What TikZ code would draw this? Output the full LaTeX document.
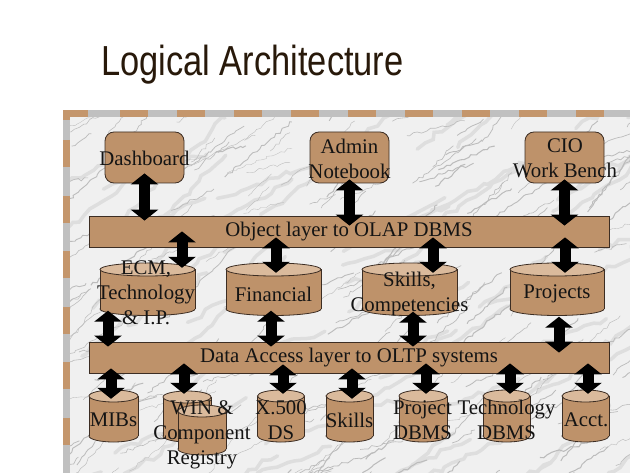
\documentclass[tikz,border=0pt]{standalone}
\usepackage{graphicx}
\usepackage{fontspec}
\setmainfont{Liberation Serif}
\newfontfamily\titlefont{Liberation Sans}
\usetikzlibrary{arrows.meta,calc,decorations.pathmorphing}
\definecolor{tanfill}{RGB}{190,146,106}
\definecolor{tanlight}{RGB}{218,186,156}
\definecolor{edgecol}{RGB}{60,45,35}
\definecolor{marble}{RGB}{240,240,240}
\definecolor{veincol}{RGB}{188,188,188}
\definecolor{cloudcol}{RGB}{222,222,222}
\definecolor{bordertan}{RGB}{196,150,108}
\definecolor{bordergray}{RGB}{192,192,192}
\definecolor{titlecol}{RGB}{40,25,10}
\tikzset{
  box/.style={draw=edgecol, fill=tanfill, rounded corners=9pt, line width=0.8pt, inner sep=0pt},
  bar/.style={draw=edgecol, fill=tanfill, line width=0.8pt, inner sep=0pt},
  lbl/.style={align=center, inner sep=0pt, text=black!92, font=\fontsize{20.8}{25}\selectfont},
  cylline/.style={draw=edgecol, line width=0.8pt},
  dbl/.style={line width=11pt, draw=black, >={Triangle[width=27pt,length=11pt]}, <->},
  vein/.style={draw=veincol, decorate, decoration={random steps, segment length=4pt, amplitude=1.6pt}},
  cloud/.style={draw=cloudcol, line width=3.5pt, line cap=round, decorate, decoration={random steps, segment length=8pt, amplitude=3pt}},
}
\newcommand\mycyl[6]{% name, cx, ytop, ybot, rx, ry
  \filldraw[cylline,fill=tanfill] (#2,#4) ellipse[x radius=#5,y radius=#6];
  \fill[tanfill] (#2-#5,#3) rectangle (#2+#5,#4);
  \draw[cylline] (#2-#5,#3) -- (#2-#5,#4) (#2+#5,#3) -- (#2+#5,#4);
  \filldraw[cylline,fill=tanlight] (#2,#3) ellipse[x radius=#5,y radius=#6];
  \node[inner sep=0pt,minimum width={2*#5},minimum height={#4-#3+2*#6}] (#1) at (#2,{(#3+#4)/2}) {};
}
\begin{document}
\begin{tikzpicture}[x=1pt,y=-1pt]
\useasboundingbox (0,0) rectangle (630,473);
\fill[white] (0,0) rectangle (630,473);

% title
\node[anchor=base west, text=titlecol, inner sep=0pt, font=\titlefont\fontsize{42}{48}\selectfont] (title) at (101,76) {\scalebox{0.82}[1]{Logical Architecture}};

% frame with marble
\fill[marble] (63,110) rectangle (630,473);
\begin{scope}
  \clip (70,117) rectangle (630,473);
  \pgfmathsetseed{11}
  \foreach \i in {1,...,70}{
    \pgfmathsetmacro\xa{20+640*rnd}
    \pgfmathsetmacro\ya{117+420*rnd}
    \pgfmathsetmacro\ang{15+30*rnd}
    \pgfmathsetmacro\len{60+90*rnd}
    \draw[cloud] (\xa,\ya) -- ++({\len*cos(\ang)},{-\len*sin(\ang)});
  }
  \foreach \i in {1,...,230}{
    \pgfmathsetmacro\xa{20+640*rnd}
    \pgfmathsetmacro\ya{117+420*rnd}
    \pgfmathsetmacro\ang{10+45*rnd}
    \pgfmathsetmacro\len{20+70*rnd}
    \pgfmathsetmacro\lw{0.3+0.8*rnd}
    \draw[vein, line width=\lw pt] (\xa,\ya) -- ++({\len*cos(\ang)},{-\len*sin(\ang)});
  }
\end{scope}
\fill[bordergray] (63,110) rectangle (630,117);
\fill[bordergray] (63,110) rectangle (70,473);
\draw[bordertan, line width=7pt, dash pattern=on 25pt off 32pt on 28pt off 29pt on 28pt off 29pt on 28pt off 29pt on 28pt off 29pt on 28pt off 29pt on 28pt off 29pt on 28pt off 29pt on 28pt off 29pt on 28pt off 29pt on 28pt off 29pt] (63,113.5) -- (630,113.5);
\fill[bordertan] (63,110) rectangle (70,120);
\draw[bordertan, line width=7pt, dash pattern=on 27pt off 28.6pt, dash phase=32.6pt] (66.5,117) -- (66.5,473);

% top boxes
\node[box, minimum width=79pt, minimum height=51pt] (dash) at (144.5,157.5) {};
\node[box, minimum width=79pt, minimum height=51pt] (admin) at (349.5,157.5) {};
\node[box, minimum width=79pt, minimum height=51pt] (cio) at (564.5,157.5) {};
\node[lbl] (dashT) at (144.5,158) {Dashboard};
\node[lbl] (adminT) at (349.5,158.5) {Admin\\Notebook};
\node[lbl] (cioT) at (565,158.5) {CIO\\Work Bench};

% bars
\node[bar, minimum width=520pt, minimum height=31pt] (obj) at (349,231.5) {};
\node[lbl] (objT) at (349,232) {Object layer to OLAP DBMS};
\node[bar, minimum width=520pt, minimum height=31pt] (data) at (349,357.5) {};
\node[lbl] (dataT) at (349,358) {Data Access layer to OLTP systems};

% middle cylinders
\mycyl{ecm}{147.5}{269.5}{309}{47.5}{6.5}
\mycyl{fin}{273.5}{269.5}{309}{47.5}{6.5}
\mycyl{skl}{409.5}{269.5}{309}{47.5}{6.5}
\mycyl{proj}{557}{269.5}{309}{47}{6.5}
\node[lbl] (ecmT) at (146,293) {ECM,\\Technology\\\& I.P.};
\node[lbl] (finT) at (273.5,294) {Financial};
\node[lbl] (sklT) at (409.5,293.5) {Skills,\\Competencies};
\node[lbl] (projT) at (557,294) {Projects};

% bottom cylinders
\mycyl{mibs}{113.5}{396}{436}{24.5}{6}
\mycyl{wina}{187}{397}{436}{24}{6}
\mycyl{winb}{202}{411}{449}{24}{6}
\mycyl{xds}{281}{396}{436}{23.5}{6}
\mycyl{skb}{349.5}{396}{436}{23.5}{6}
\mycyl{pdb}{423}{396}{436}{24}{6}
\mycyl{tdb}{506.5}{396}{436}{23.5}{6}
\mycyl{acct}{585.5}{396}{436}{23.5}{6}
\node[lbl] (mibsT) at (113.5,420) {MIBs};
\node[lbl] (winT) at (202,434.5) {WIN \&\\Component\\Registry};
\node[lbl] (xdsT) at (281,420) {X.500\\DS};
\node[lbl] (skbT) at (349.5,420) {Skills};
\node[lbl] (pdbT) at (422.5,420) {Project\\DBMS};
\node[lbl] (tdbT) at (506.5,420) {Technology\\DBMS};
\node[lbl] (acctT) at (586,420) {Acct.};

% arrows top
\draw[dbl] ($(dash.south)+(0,-10)$) -- ($(dash.south |- obj.north)+(0,5)$);
\draw[dbl] ($(admin.south)+(0,-4)$) -- ($(admin.south |- obj.north)+(0,10)$);
\draw[dbl] ($(cio.south)+(0,-4)$) -- ($(cio.south |- obj.north)+(0,10)$);
% object layer to middle
\draw[dbl] ($(182,0 |- obj.south)+(0,-16)$) -- ($(182,0 |- ecm.north)+(0,5)$);
\draw[dbl] ($(276,0 |- obj.south)+(0,-10)$) -- ($(276,0 |- fin.north)+(0,10)$);
\draw[dbl] ($(433,0 |- obj.south)+(0,-10)$) -- ($(433,0 |- skl.north)+(0,10)$);
\draw[dbl] ($(565,0 |- obj.south)+(0,-10)$) -- ($(565,0 |- proj.north)+(0,10)$);
% middle to data layer
\draw[dbl] ($(108,0 |- ecm.south)+(0,-5)$) -- ($(108,0 |- data.north)+(0,5)$);
\draw[dbl] ($(271,0 |- fin.south)+(0,-5)$) -- ($(271,0 |- data.north)+(0,5)$);
\draw[dbl] ($(413,0 |- skl.south)+(0,-4)$) -- ($(413,0 |- data.north)+(0,5)$);
\draw[dbl] ($(559,0 |- proj.south)+(0,1)$) -- ($(559,0 |- data.north)+(0,11)$);
% data layer to bottom
\draw[dbl] ($(111,0 |- data.south)+(0,-5)$) -- ($(111,0 |- mibs.north)+(0,9)$);
\draw[dbl] ($(184,0 |- data.south)+(0,-10)$) -- ($(184,0 |- wina.north)+(0,3)$);
\draw[dbl] ($(283,0 |- data.south)+(0,-9)$) -- ($(283,0 |- xds.north)+(0,4)$);
\draw[dbl] ($(352,0 |- data.south)+(0,-5)$) -- ($(352,0 |- skb.north)+(0,9)$);
\draw[dbl] ($(426,0 |- data.south)+(0,-10)$) -- ($(426,0 |- pdb.north)+(0,4)$);
\draw[dbl] ($(510,0 |- data.south)+(0,-10)$) -- ($(510,0 |- tdb.north)+(0,4)$);
\draw[dbl] ($(588,0 |- data.south)+(0,-10)$) -- ($(588,0 |- acct.north)+(0,4)$);
\end{tikzpicture}
\end{document}
